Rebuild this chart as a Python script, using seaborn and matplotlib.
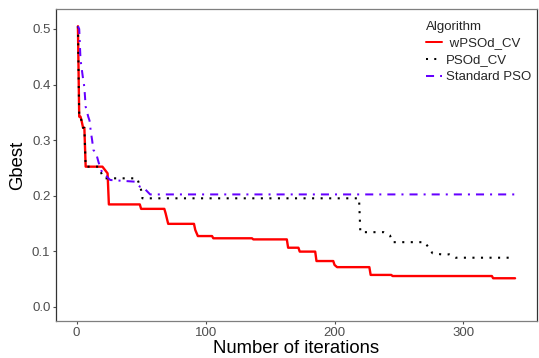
import numpy as np
import pandas as pd
import matplotlib
matplotlib.use("Agg")
import matplotlib.pyplot as plt
import seaborn as sns

# -----------------------------
# Data
# -----------------------------
wpso_iter = [1, 2, 3, 4, 5, 6, 7, 20, 22, 24, 25, 49, 50, 68, 69, 71, 91, 92, 94,
             105, 106, 136, 137, 163, 164, 172, 173, 185, 186, 199, 200, 202,
             227, 228, 244, 245, 322, 323, 340]
wpso_gbest = [0.505, 0.342, 0.342, 0.333, 0.322, 0.322, 0.252, 0.252, 0.246, 0.240, 0.184,
              0.184, 0.176, 0.176, 0.168, 0.149, 0.149, 0.138, 0.127,
              0.127, 0.123, 0.123, 0.121, 0.121, 0.106, 0.106, 0.099, 0.099, 0.082,
              0.082, 0.075, 0.071, 0.071, 0.057, 0.057, 0.055, 0.055, 0.051, 0.051]

psod_iter = [1, 2, 3, 4, 5, 6, 7, 17, 19, 21, 47, 50, 51, 219, 220, 238, 243, 245,
             270, 276, 283, 289, 294, 340]
psod_gbest = [0.505, 0.342, 0.342, 0.333, 0.322, 0.322, 0.252, 0.252, 0.241, 0.231, 0.231,
              0.210, 0.195, 0.195, 0.134, 0.134, 0.128, 0.116,
              0.116, 0.096, 0.094, 0.094, 0.088, 0.088]

std_iter = [1, 2, 3, 5, 6, 7, 9, 10, 11, 12, 13, 15, 17, 20, 23, 26, 45, 49, 52, 57, 340]
std_gbest = [0.505, 0.500, 0.445, 0.410, 0.395, 0.360, 0.342, 0.335, 0.315, 0.300, 0.282,
             0.277, 0.260, 0.240, 0.235, 0.228, 0.225, 0.216, 0.214, 0.202, 0.202]

algorithms = [" wPSOd_CV", "PSOd_CV", "Standard PSO"]
colors = ["#FF0000", "#000000", "#6600FF"]

x_ticks = [0, 100, 200, 300]
y_ticks = [0.0, 0.1, 0.2, 0.3, 0.4, 0.5]

df = pd.concat([
    pd.DataFrame({"Iteration": wpso_iter, "Gbest": wpso_gbest, "Algorithm": algorithms[0]}),
    pd.DataFrame({"Iteration": psod_iter, "Gbest": psod_gbest, "Algorithm": algorithms[1]}),
    pd.DataFrame({"Iteration": std_iter, "Gbest": std_gbest, "Algorithm": algorithms[2]}),
], ignore_index=True)

# -----------------------------
# Plot
# -----------------------------
sns.set_theme(style="white")
plt.rcParams["font.family"] = ["Liberation Sans", "DejaVu Sans"]

fig = plt.figure(figsize=(5.39, 3.58), dpi=100)
ax = fig.add_axes([56 / 539, 1 - 321 / 358, (537 - 56) / 539, (321 - 9) / 358])

sns.lineplot(data=df, x="Iteration", y="Gbest", hue="Algorithm", style="Algorithm",
             hue_order=algorithms, style_order=algorithms,
             palette=dict(zip(algorithms, colors)),
             dashes={algorithms[0]: "", algorithms[1]: (1, 3.1), algorithms[2]: (4, 3, 1, 3)},
             sort=False, estimator=None, linewidth=1.45, ax=ax)

# red line a bit heavier, like the reference
for line, lw in zip(ax.get_lines()[:3], [1.7, 1.5, 1.45]):
    line.set_linewidth(lw)

ax.set_xlim(-16, 357)
ax.set_ylim(-0.026, 0.536)
ax.set_xticks(x_ticks)
ax.set_yticks(y_ticks)
ax.set_yticklabels([f"{v:.1f}" for v in y_ticks])
ax.tick_params(axis="both", which="major", length=2.5, width=0.8, color="#4D4D4D",
               labelcolor="#4D4D4D", labelsize=9.5, pad=1.5, direction="out",
               bottom=True, left=True)
ax.set_xlabel("Number of iterations", fontsize=13.3, color="black", labelpad=1)
ax.set_ylabel("Gbest", fontsize=13.3, color="black", labelpad=4)

for side, spine in ax.spines.items():
    spine.set_visible(True)
    spine.set_linewidth(0.9)
    spine.set_color("#333333" if side in ("left", "right") else "#7F7F7F")

handles, labels = ax.get_legend_handles_labels()
leg = ax.legend(handles, labels, title="Algorithm", loc="upper right",
                bbox_to_anchor=(1.005, 0.988), frameon=False, fontsize=9.5,
                title_fontsize=9.5, handlelength=1.2, handletextpad=0.3,
                labelspacing=0.35, borderaxespad=0.2)
leg._legend_box.align = "left"

fig.savefig("out.png", dpi=100)
plt.close(fig)
